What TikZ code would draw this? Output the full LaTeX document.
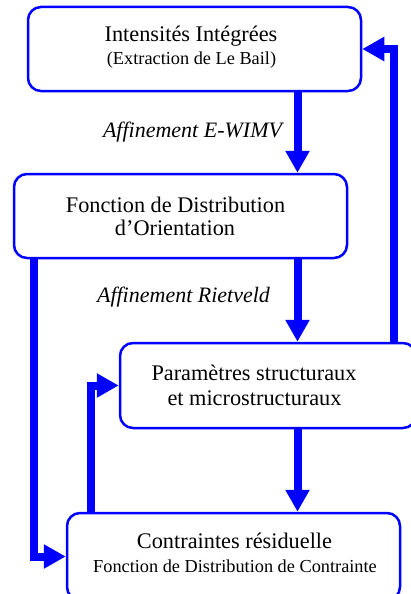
\documentclass[tikz,border=0pt]{standalone}
\usepackage{fontspec}
\setmainfont{Liberation Serif}
\usetikzlibrary{arrows.meta}
\begin{document}
\begin{tikzpicture}[x=1pt,y=1pt,
  box/.style={draw=blue, line width=2.5pt, rounded corners=13pt, inner sep=0pt, fill=white},
  big/.style={anchor=base, inner sep=0pt, font=\fontsize{22.3}{24}\selectfont},
  small/.style={anchor=base, inner sep=0pt, font=\fontsize{18.3}{20}\selectfont},
  lab/.style={anchor=base, inner sep=0pt, font=\fontsize{22}{24}\selectfont\itshape},
  arr/.style={draw=blue, line width=8pt, -{Triangle[width=23pt,length=22pt]}}]
\useasboundingbox (0,0) rectangle (410,-594);
\fill[white] (0,0) rectangle (410,-594);
% boxes
\node[box, minimum width=333pt, minimum height=84pt] (b1) at (194.5,-49) {};
\node[box, minimum width=333pt, minimum height=84pt] (b2) at (180.5,-216) {};
\node[box, minimum width=296pt, minimum height=85pt] (b3) at (268,-385.5) {};
\node[box, minimum width=333pt, minimum height=87pt] (b4) at (233.5,-556.5) {};
% texts
\node[big] (t1a) at (191,-42) {Intensités Intégrées};
\node[small] (t1b) at (191.5,-65) {(Extraction de Le Bail)};
\node[big] (t2a) at (175.5,-212) {Fonction de Distribution};
\node[big] (t2b) at (175,-235) {d’Orientation};
\node[big] (t3a) at (254,-380) {Paramètres structuraux};
\node[big] (t3b) at (254.5,-405) {et microstructuraux};
\node[big] (t4a) at (234.5,-548) {Contraintes résiduelle};
\node[small] (t4b) at (235,-572) {Fonction de Distribution de Contrainte};
\node[lab] (l1) at (192.5,-137) {Affinement E-WIMV};
\node[lab] (l2) at (183.5,-302) {Affinement Rietveld};
% columns
\coordinate (cc) at (297.5,0);
\coordinate (cl) at (33.5,0);
\coordinate (cm) at (91,0);
\coordinate (cr) at (394,0);
% connectors
\draw[arr] (b1.south -| cc) -- (b2.north -| cc);
\draw[arr] (b2.south -| cc) -- (b3.north -| cc);
\draw[arr] (b3.south -| cc) -- (b4.north -| cc);
\draw[arr] (b2.south -| cl) |- (b4.west);
\draw[arr] (b4.north -| cm) |- (b3.west);
\draw[arr] (b3.north -| cr) |- (b1.east);
\end{tikzpicture}
\end{document}
